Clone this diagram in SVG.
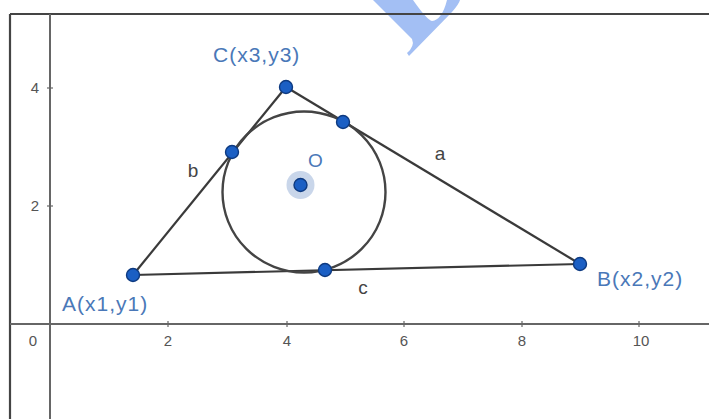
<svg xmlns="http://www.w3.org/2000/svg" width="709" height="419" viewBox="0 0 709 419">
<style>
.frame{stroke:#444;stroke-width:2.2;fill:none}
.axis{stroke:#666;stroke-width:2;fill:none}
.tick{stroke:#666;stroke-width:1.2}
.num{font-family:"Liberation Sans",Arial,sans-serif;font-size:15px;fill:#555;text-anchor:middle}
.seg{stroke:#3a3a3a;stroke-width:2.2;fill:none}
.circ{stroke:#444;stroke-width:2.4;fill:none}
.pt{fill:#1b5fc4;stroke:#0e3a80;stroke-width:1.4}
.lbl{font-family:"Liberation Sans",Arial,sans-serif;font-size:21px;fill:#4a78b8;letter-spacing:1px}
.slbl{font-family:"Liberation Sans",Arial,sans-serif;font-size:19px;fill:#444;text-anchor:middle}
</style>
<rect width="709" height="419" fill="#fff"/>
<g id="watermark">
<path d="M373,0 L412,39 Q415,46 407,53 L409,56 L452,12 Q459,4 460,0 L447,0 Q442,20 432,21 Q427,20 413,0 Z" fill="#a3bff4"/>
</g>
<g id="frame">
<line class="frame" x1="10" y1="14" x2="709" y2="14"/>
<line class="frame" x1="10" y1="14" x2="10" y2="419"/>
</g>
<g id="axes">
<line class="axis" x1="10" y1="324" x2="709" y2="324"/>
<line class="axis" x1="50" y1="14" x2="50" y2="419"/>
<line class="tick" x1="168" y1="321" x2="168" y2="327"/>
<line class="tick" x1="287" y1="321" x2="287" y2="327"/>
<line class="tick" x1="404" y1="321" x2="404" y2="327"/>
<line class="tick" x1="522" y1="321" x2="522" y2="327"/>
<line class="tick" x1="639" y1="321" x2="639" y2="327"/>
<line class="tick" x1="47" y1="88" x2="53" y2="88"/>
<line class="tick" x1="47" y1="206" x2="53" y2="206"/>
<text class="num" x="33" y="346">0</text>
<text class="num" x="168" y="346">2</text>
<text class="num" x="287" y="346">4</text>
<text class="num" x="404" y="346">6</text>
<text class="num" x="522" y="346">8</text>
<text class="num" x="641" y="346">10</text>
<text class="num" x="35" y="93">4</text>
<text class="num" x="35" y="211">2</text>
</g>
<g id="connectors">
<line class="seg" x1="133" y1="275" x2="580" y2="264"/>
<line class="seg" x1="133" y1="275" x2="286" y2="87"/>
<line class="seg" x1="286" y1="87" x2="580" y2="264"/>
<ellipse class="circ" cx="304" cy="192" rx="81.5" ry="80.5"/>
</g>
<g id="side-labels">
<text class="slbl" x="193" y="177">b</text>
<text class="slbl" x="440" y="160">a</text>
<text class="slbl" x="363" y="294">c</text>
</g>
<g id="A">
<circle class="pt" cx="133" cy="275" r="6.5"/>
<text class="lbl" x="62" y="311">A(x1,y1)</text>
</g>
<g id="B">
<circle class="pt" cx="580" cy="264" r="6.5"/>
<text class="lbl" x="597" y="286">B(x2,y2)</text>
</g>
<g id="C">
<circle class="pt" cx="286" cy="87" r="6.5"/>
<text class="lbl" x="213" y="62">C(x3,y3)</text>
</g>
<g id="T1">
<circle class="pt" cx="232" cy="152" r="6.5"/>
</g>
<g id="T2">
<circle class="pt" cx="343" cy="122" r="6.5"/>
</g>
<g id="T3">
<circle class="pt" cx="325" cy="270" r="6.5"/>
</g>
<g id="O">
<circle cx="300.5" cy="185" r="14" fill="#c9d6ea"/>
<circle class="pt" cx="300.5" cy="185" r="6.5"/>
<text class="lbl" x="308" y="167" style="font-size:19px">O</text>
</g>
</svg>
